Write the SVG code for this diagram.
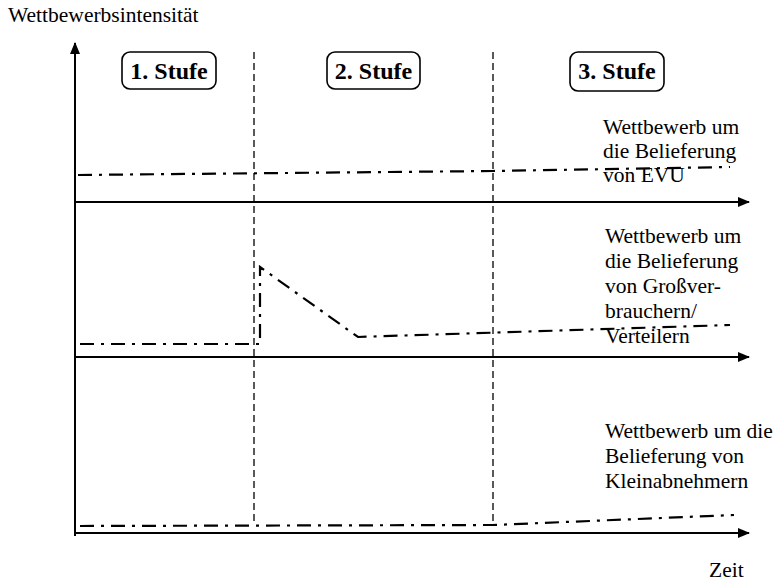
<svg xmlns="http://www.w3.org/2000/svg" width="780" height="585" viewBox="0 0 780 585">
<defs>
<marker id="arr" markerWidth="12" markerHeight="10" refX="11" refY="5" orient="auto" markerUnits="userSpaceOnUse">
<path d="M0,0 L12,5 L0,10 Z" fill="#000"/>
</marker>
<style>
.t{font-family:"Liberation Serif","Times New Roman",serif;font-size:21.5px;fill:#000}
.b{font-family:"Liberation Serif","Times New Roman",serif;font-size:24px;font-weight:bold;fill:#000}
.ax{stroke:#000;stroke-width:2;fill:none}
.sep{stroke:#000;stroke-width:1.3;stroke-dasharray:7,4;fill:none}
.dd{stroke:#000;stroke-width:2.2;stroke-dasharray:14,7,3,7;fill:none}
.box{fill:#fff;stroke:#000;stroke-width:1.6}
</style>
</defs>
<rect width="780" height="585" fill="#fff"/>
<g id="axes">
<line class="ax" x1="75" y1="536" x2="75" y2="43" marker-end="url(#arr)"/>
<line class="ax" x1="75" y1="202" x2="749" y2="202" marker-end="url(#arr)"/>
<line class="ax" x1="75" y1="357" x2="749" y2="357" marker-end="url(#arr)"/>
<line class="ax" x1="75" y1="533" x2="749" y2="533" marker-end="url(#arr)"/>
</g>
<g id="separators">
<line class="sep" x1="254" y1="52" x2="254" y2="525"/>
<line class="sep" x1="493" y1="52" x2="493" y2="525"/>
</g>
<g id="stufe1">
<rect class="box" x="122" y="52" width="94" height="37" rx="8"/>
<text class="b" x="169" y="79" text-anchor="middle">1. Stufe</text>
</g>
<g id="stufe2">
<rect class="box" x="327" y="52" width="93" height="37" rx="8"/>
<text class="b" x="373.5" y="79" text-anchor="middle">2. Stufe</text>
</g>
<g id="stufe3">
<rect class="box" x="570" y="52" width="94" height="39" rx="8"/>
<text class="b" x="617" y="79" text-anchor="middle">3. Stufe</text>
</g>
<g id="curves">
<polyline class="dd" points="78,175 493,171 730,167"/>
<polyline class="dd" points="80,344 258,344 260,344 260,267 358,337 730,325"/>
<polyline class="dd" points="80,526 493,525 734,515"/>
</g>
<g id="labels">
<text class="t" x="8" y="22">Wettbewerbsintensität</text>
<text class="t" x="603" y="134">Wettbewerb um</text>
<text class="t" x="603" y="158">die Belieferung</text>
<text class="t" x="603" y="182">von EVU</text>
<text class="t" x="605" y="243">Wettbewerb um</text>
<text class="t" x="605" y="268">die Belieferung</text>
<text class="t" x="605" y="293">von Großver-</text>
<text class="t" x="605" y="318">brauchern/</text>
<text class="t" x="605" y="343">Verteilern</text>
<text class="t" x="605" y="438">Wettbewerb um die</text>
<text class="t" x="605" y="463">Belieferung von</text>
<text class="t" x="605" y="488">Kleinabnehmern</text>
<text class="t" x="709" y="577">Zeit</text>
</g>
</svg>
